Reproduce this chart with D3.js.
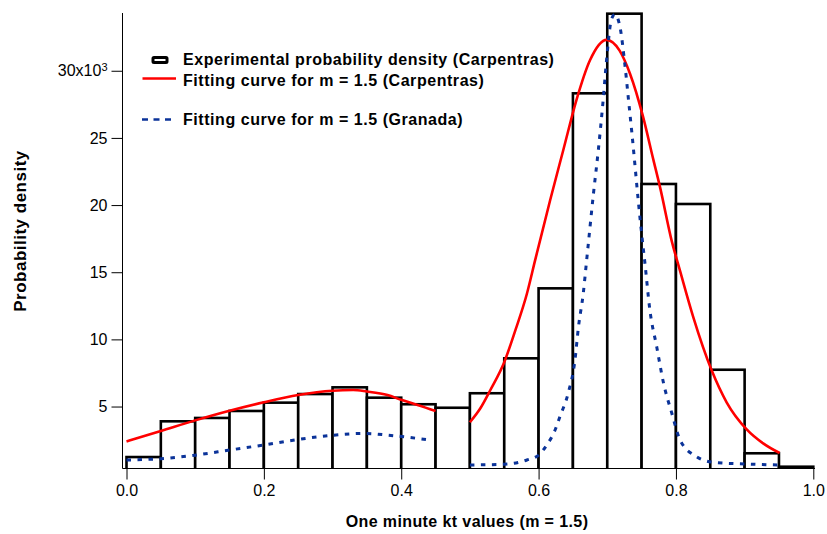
<!DOCTYPE html>
<html>
<head>
<meta charset="utf-8">
<script src="https://cdn.jsdelivr.net/npm/d3@7"></script>
<style>
  html, body { margin: 0; padding: 0; background: #fff; }
  svg { display: block; font-family: "Liberation Sans", Arial, sans-serif; }
</style>
</head>
<body>
<svg id="chart" width="827" height="534"></svg>
<script>
// ---- data (values in units of 10^3) ----
const binStarts = [0.00,0.05,0.10,0.15,0.20,0.25,0.30,0.35,0.40,0.45,0.50,0.55,0.60,0.65,0.70,0.75,0.80,0.85,0.90,0.95];
const binWidth = 0.05;
const densityValues = [1.24,3.90,4.15,4.67,5.29,5.93,6.43,5.66,5.17,4.91,5.99,8.59,13.80,28.32,34.25,21.57,20.08,7.74,1.52,0.52];

const carpLowX = [0,0.05,0.10,0.15,0.20,0.25,0.30,0.33,0.35,0.38,0.40,0.425,0.45];
const carpLowY = [2.40,3.18,3.97,4.69,5.32,5.86,6.18,6.23,6.12,5.86,5.50,5.10,4.67];
const carpHighX = [0.50,0.515,0.53,0.55,0.567,0.583,0.595,0.617,0.636,0.655,0.675,0.699,0.718,0.733,0.752,0.767,0.777,0.794,0.806,0.825,0.852,0.874,0.903,0.927,0.951];
const carpHighY = [3.83,4.85,6.25,8.30,10.8,13.4,15.9,20.4,24.1,27.8,30.8,32.3,31.5,29.8,26.6,23.4,21.3,17.3,15.1,11.7,7.7,5.3,3.3,2.26,1.54];

const granLowX = [0,0.05,0.10,0.15,0.20,0.25,0.30,0.345,0.39,0.44];
const granLowY = [1.02,1.12,1.38,1.76,2.14,2.55,2.86,3.0,2.82,2.52];
const granHighX = [0.50,0.55,0.583,0.600,0.612,0.624,0.631,0.643,0.653,0.658,0.665,0.670,0.680,0.687,0.694,0.699,0.706,0.711,0.718,0.726,0.731,0.736,0.741,0.745,0.750,0.755,0.762,0.772,0.782,0.794,0.806,0.830,0.854,0.903,0.95];
const granHighY = [0.65,0.70,1.02,1.39,2.14,3.25,4.24,5.98,8.47,10.9,13.4,15.9,20.9,24.1,27.8,30.8,33.8,34.2,33.4,30.3,27.8,25.3,22.6,20.4,17.9,15.6,12.2,9.45,6.73,4.5,2.51,1.27,0.85,0.72,0.65];

const xTicks = [0,0.2,0.4,0.6,0.8,1.0];
const xTickLabels = ["0.0","0.2","0.4","0.6","0.8","1.0"];
const yTicks = [5,10,15,20,25,30];
const yTickLabels = ["5","10","15","20","25","30"];

const legendLabels = [
  "Experimental probability density (Carpentras)",
  "Fitting curve for m = 1.5 (Carpentras)",
  "Fitting curve for m = 1.5 (Granada)"
];
const xTitle = "One minute kt values (m = 1.5)";
const yTitle = "Probability density";

// ---- layout ----
const svg = d3.select("#chart");
const x = d3.scaleLinear().domain([0, 1]).range([126.5, 813.3]);
const y = d3.scaleLinear().domain([0.35, 34.3]).range([469, 13]);
const axisX = 122.5, axisY = 468.5;
const red = "#ff0000", blue = "#0b3399";
const FF = "Liberation Sans, Arial, sans-serif";

svg.append("defs").append("clipPath").attr("id","plotclip")
  .append("rect").attr("x", axisX).attr("y", 11).attr("width", 700).attr("height", axisY - 11);

const plot = svg.append("g").attr("clip-path","url(#plotclip)");

// bars
plot.selectAll("rect.bar").data(binStarts).enter().append("rect")
  .attr("class","bar")
  .attr("x", d => x(d))
  .attr("width", d => x(d + binWidth) - x(d))
  .attr("y", (d,i) => y(densityValues[i]))
  .attr("height", (d,i) => y(0.35) - y(densityValues[i]) + 3)
  .attr("fill", "#fff")
  .attr("stroke", "#000")
  .attr("stroke-width", 2.6);

const line = d3.line().x(d => x(d[0])).y(d => y(d[1])).curve(d3.curveMonotoneX);
const zip = (a, b) => a.map((v, i) => [v, b[i]]);

[[carpLowX, carpLowY], [carpHighX, carpHighY]].forEach(([xs, ys]) => {
  plot.append("path").attr("d", line(zip(xs, ys)))
    .attr("fill","none").attr("stroke", red).attr("stroke-width", 2.6);
});
[[granLowX, granLowY], [granHighX, granHighY]].forEach(([xs, ys]) => {
  plot.append("path").attr("d", line(zip(xs, ys)))
    .attr("fill","none").attr("stroke", blue).attr("stroke-width", 3)
    .attr("stroke-dasharray", "4.5,6.5").attr("stroke-linecap","butt");
});

// axes
const yAxis = d3.axisLeft(y).tickValues(yTicks).tickSize(11).tickSizeOuter(0).tickPadding(4)
  .tickFormat((d, i) => yTickLabels[i]);
const gy = svg.append("g").attr("transform", `translate(${axisX},0)`).call(yAxis);
gy.select(".domain").remove();
gy.selectAll("text").attr("font-size", 16).attr("font-family", FF).attr("fill","#000");
gy.selectAll(".tick line").attr("stroke","#000");
gy.selectAll(".tick text").filter(d => d === 30).each(function() {
  const t = d3.select(this);
  t.text(null);
  t.append("tspan").text("30x10");
  t.append("tspan").attr("dy", "-0.5em").attr("font-size", 11).text("3");
});
svg.append("line").attr("x1", axisX).attr("x2", axisX).attr("y1", 13).attr("y2", axisY)
  .attr("stroke","#000").attr("stroke-width",1);

const xAxis = d3.axisBottom(x).tickValues(xTicks).tickSize(11).tickSizeOuter(0).tickPadding(5)
  .tickFormat((d, i) => xTickLabels[i]);
const gx = svg.append("g").attr("transform", `translate(0,${axisY})`).call(xAxis);
gx.select(".domain").remove();
gx.selectAll("text").attr("font-size", 16).attr("font-family", FF).attr("fill","#000");
gx.selectAll(".tick line").attr("stroke","#000");
svg.append("line").attr("x1", axisX).attr("x2", 815).attr("y1", axisY).attr("y2", axisY)
  .attr("stroke","#000").attr("stroke-width",1);

// titles
svg.append("text").attr("x", 467).attr("y", 521).attr("text-anchor","middle")
  .attr("dominant-baseline","central").attr("font-size", 16).attr("letter-spacing", 0.4)
  .attr("font-weight","bold").text(xTitle);
svg.append("text").attr("transform","translate(20,231) rotate(-90)").attr("text-anchor","middle")
  .attr("dominant-baseline","central").attr("font-size", 17).attr("letter-spacing", 0.5)
  .attr("font-weight","bold").text(yTitle);

// legend
const lg = svg.append("g");
lg.append("rect").attr("x", 153).attr("y", 57.5).attr("width", 14).attr("height", 5)
  .attr("fill","#fff").attr("stroke","#000").attr("stroke-width", 3).attr("rx", 1);
lg.append("line").attr("x1", 142.5).attr("x2", 176).attr("y1", 78.5).attr("y2", 78.5)
  .attr("stroke", red).attr("stroke-width", 2.6);
lg.append("line").attr("x1", 142).attr("x2", 171).attr("y1", 119.5).attr("y2", 119.5)
  .attr("stroke", blue).attr("stroke-width", 2.6).attr("stroke-dasharray","6,5.5");
const legY = [59.5, 80, 119.5];
legendLabels.forEach((t, i) => {
  lg.append("text").attr("x", 183).attr("y", legY[i]).attr("dominant-baseline","central")
    .attr("font-size", 16).attr("letter-spacing", 0.55)
    .attr("font-weight","bold").text(t);
});
</script>
</body>
</html>
